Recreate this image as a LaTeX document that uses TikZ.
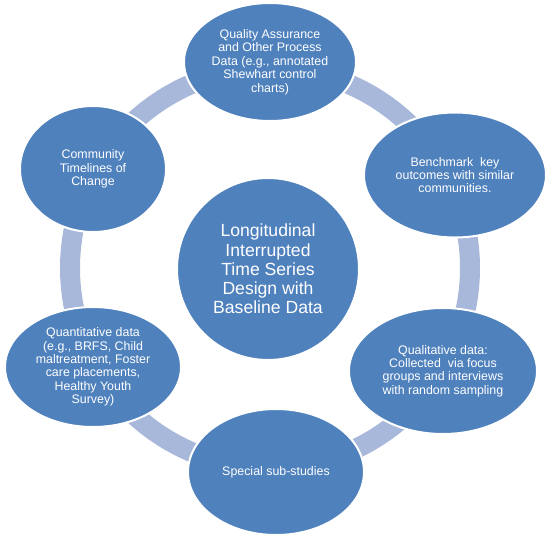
\documentclass[tikz,border=0pt]{standalone}
\usepackage{fontspec}
\setmainfont{Liberation Sans}
\usetikzlibrary{shapes.geometric}
\definecolor{satblue}{HTML}{4F81BD}
\definecolor{ringblue}{HTML}{A7B8DA}
\begin{document}
\begin{tikzpicture}[x=1pt,y=-1pt,
		sat/.style={ellipse,fill=satblue,draw=white,line width=2pt,inner sep=0pt,
			text=white,align=center,font=\fontsize{12.4}{13.4}\selectfont},
		hub/.style={circle,fill=satblue,draw=white,line width=2pt,inner sep=0pt,
			text=white,align=center,font=\fontsize{17.6}{19.2}\selectfont,minimum size=182pt},
		ring/.style={draw=ringblue,line width=20pt}]
				\useasboundingbox (0,0) rectangle (550,539);
				\node[hub] (M) at (268,269) {Longitudinal\\Interrupted\\Time Series\\Design with\\Baseline Data};
				\draw[ring] (270,268) circle (200);

				\node[sat,minimum width=172pt,minimum height=118pt] (A) at (270,62) {Quality Assurance\\and Other Process\\Data (e.g., annotated\\Shewhart control\\charts)};
				\node[sat,minimum width=182pt,minimum height=125pt] (B) at (455,175) {Benchmark\ \ key\\outcomes with similar\\communities.};
				\node[sat,minimum width=188pt,minimum height=126pt] (C) at (443,371) {Qualitative data:\\Collected\ \ via focus\\groups and interviews\\with random sampling};
				\node[sat,minimum width=176pt,minimum height=126pt] (D) at (276,472) {Special sub-studies};
				\node[sat,minimum width=176pt,minimum height=120pt] (E) at (93,367) {Quantitative data\\(e.g., BRFS, Child\\maltreatment, Foster\\care placements,\\Healthy Youth\\Survey)};
				\node[sat,minimum width=146pt,minimum height=126pt] (F) at (93,169) {Community\\Timelines of\\Change};
			\end{tikzpicture}
\end{document}
